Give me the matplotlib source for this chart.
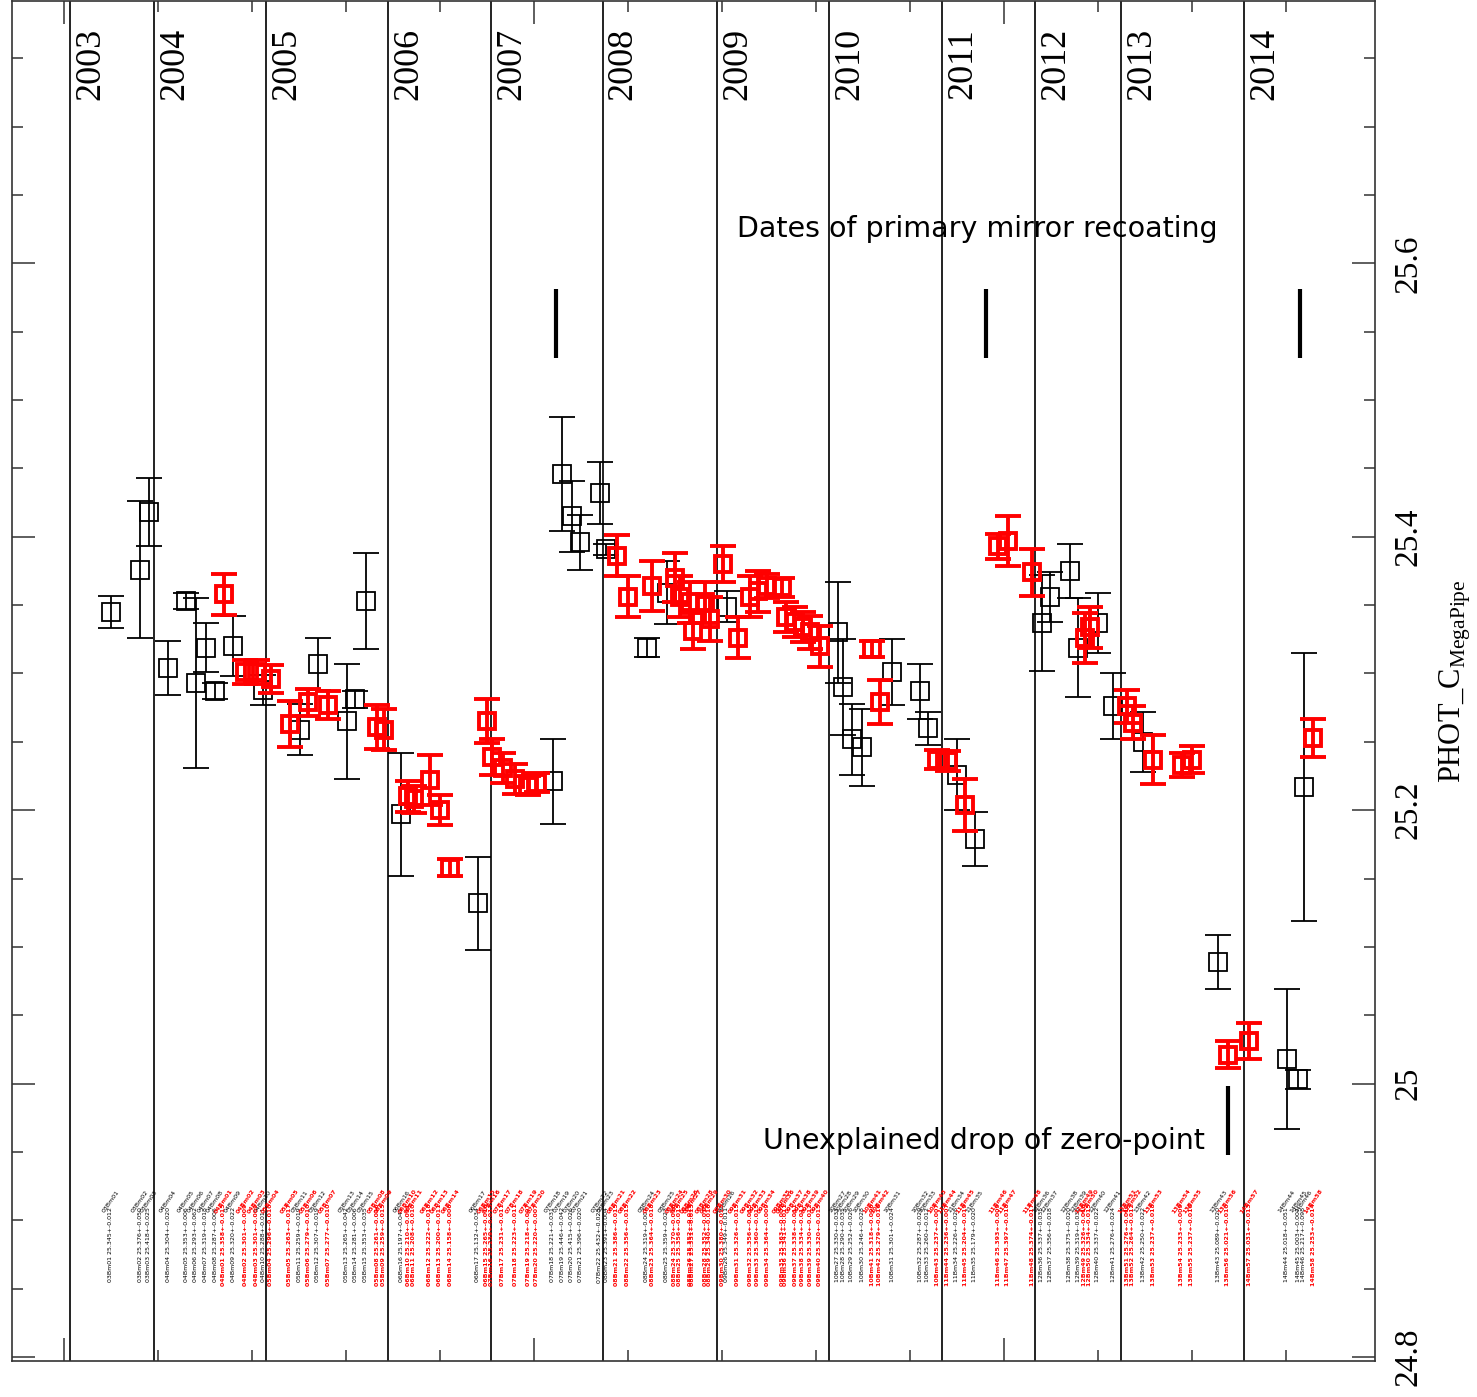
import bisect
import matplotlib
matplotlib.use("Agg")
import matplotlib.pyplot as plt
from matplotlib.ticker import MultipleLocator, FormatStrFormatter

# axe horizontal : numero de run camera (index), axe vertical : PHOT_C MegaPipe
years = [2003, 2004, 2005, 2006, 2007, 2008, 2009, 2010, 2011, 2012, 2013, 2014]
year_x = [0.64, 9.57, 21.5, 34.5, 45.4, 57.3, 69.5, 81.4, 93.4, 103.3, 112.5, 125.5]

# points noirs
blk_x = [5.0, 8.1, 9.0, 11.1, 13.0, 14.0, 15.1, 16.1, 18.0, 21.2,
         25.1, 27.0, 30.1, 31.0, 32.1, 35.9, 44.0, 52.0, 53.0, 54.0,
         54.9, 57.0, 57.7, 62.0, 64.1, 70.5, 82.3, 82.9, 83.8, 84.9,
         88.1, 91.1, 91.9, 95.0, 96.9, 104.0, 104.9, 107.0, 107.9, 110.0,
         111.6, 114.8, 122.8, 130.1, 131.3, 131.9]
blk_y = [25.345, 25.376, 25.418, 25.304, 25.353, 25.293, 25.319, 25.287, 25.320, 25.288,
         25.259, 25.307, 25.265, 25.281, 25.353, 25.197, 25.132, 25.221, 25.446, 25.415,
         25.396, 25.432, 25.391, 25.319, 25.359, 25.349, 25.330, 25.290, 25.252, 25.246,
         25.301, 25.287, 25.260, 25.226, 25.179, 25.337, 25.356, 25.375, 25.319, 25.337,
         25.276, 25.250, 25.089, 25.018, 25.003, 25.217]
blk_e = [0.012, 0.050, 0.025, 0.020, 0.006, 0.062, 0.018, 0.006, 0.022, 0.011,
         0.019, 0.019, 0.042, 0.006, 0.035, 0.045, 0.034, 0.031, 0.042, 0.026,
         0.020, 0.023, 0.004, 0.007, 0.023, 0.011, 0.037, 0.035, 0.026, 0.028,
         0.024, 0.020, 0.012, 0.026, 0.020, 0.035, 0.018, 0.020, 0.036, 0.022,
         0.024, 0.022, 0.020, 0.051, 0.007, 0.098]

# points rouges
red_x = [17.0, 19.3, 20.5, 22.0, 24.0, 26.0, 28.1, 33.3, 34.0, 36.6,
         37.2, 38.9, 40.0, 41.1, 45.0, 45.5, 46.7, 48.0, 49.4, 50.3,
         58.8, 60.0, 62.6, 65.0, 65.5, 66.6, 66.9, 68.2, 68.7, 70.1,
         71.7, 73.0, 73.8, 74.8, 76.4, 76.8, 77.8, 78.6, 79.4, 80.4,
         86.0, 86.8, 92.9, 94.0, 95.9, 99.4, 100.4, 103.0, 108.6, 109.1,
         113.1, 113.7, 115.9, 118.9, 120.0, 123.8, 126.1, 132.9]
red_y = [25.358, 25.301, 25.301, 25.296, 25.263, 25.279, 25.277, 25.261, 25.259, 25.210,
         25.208, 25.222, 25.200, 25.158, 25.265, 25.239, 25.231, 25.223, 25.218, 25.220,
         25.386, 25.356, 25.364, 25.370, 25.356, 25.352, 25.331, 25.352, 25.340, 25.380,
         25.326, 25.356, 25.360, 25.364, 25.363, 25.341, 25.338, 25.334, 25.330, 25.320,
         25.318, 25.279, 25.237, 25.236, 25.204, 25.393, 25.397, 25.374, 25.326, 25.334,
         25.276, 25.264, 25.237, 25.233, 25.237, 25.021, 25.031, 25.253]
red_e = [0.015, 0.009, 0.009, 0.010, 0.017, 0.010, 0.010, 0.016, 0.015, 0.011,
         0.010, 0.018, 0.011, 0.006, 0.016, 0.013, 0.011, 0.011, 0.007, 0.007,
         0.015, 0.015, 0.018, 0.018, 0.015, 0.015, 0.013, 0.015, 0.016, 0.013,
         0.015, 0.015, 0.015, 0.009, 0.007, 0.011, 0.011, 0.011, 0.012, 0.015,
         0.006, 0.016, 0.007, 0.007, 0.019, 0.009, 0.018, 0.017, 0.018, 0.015,
         0.012, 0.012, 0.018, 0.009, 0.010, 0.010, 0.013, 0.014]

# reperes
recoat_x = [52.3, 98.1, 131.5]
recoat_y = [25.531, 25.581]
drop_x = 123.8
drop_y = [24.948, 24.998]

serif = "Liberation Serif"
plt.rcParams["mathtext.fontset"] = "custom"
plt.rcParams["mathtext.rm"] = serif

fig = plt.figure(figsize=(14.77, 13.97), dpi=100)
ax = fig.add_axes([12 / 1477, 36 / 1397, 1363 / 1477, 1360 / 1397])
ax.set_xlim(-5.53, 139.47)
ax.set_ylim(24.797, 25.792)

# lignes des annees
for yr, xv in zip(years, year_x):
    ax.axvline(xv, color="#111111", lw=1.3, zorder=1)
    ax.text(xv + 0.45, 0.980, str(yr), transform=ax.get_xaxis_transform(),
            rotation=90, ha="left", va="top", fontsize=26, family=serif)

ax.errorbar(blk_x, blk_y, yerr=blk_e, fmt="s", ms=13, mfc="none", mec="black",
            mew=1.3, ecolor="black", elinewidth=1.3, capsize=9.5, capthick=1.3, zorder=3)
ax.errorbar(red_x, red_y, yerr=red_e, fmt="s", ms=12, mfc="none", mec="red",
            mew=2.8, ecolor="red", elinewidth=2.8, capsize=9.5, capthick=3, zorder=4)

for xv in recoat_x:
    ax.plot([xv, xv], recoat_y, color="black", lw=3, solid_capstyle="butt")
ax.plot([drop_x, drop_x], drop_y, color="black", lw=3, solid_capstyle="butt")

ax.text(71.6, 25.625, "Dates of primary mirror recoating", fontsize=20.5,
        family="DejaVu Sans", ha="left", va="center")
ax.text(74.4, 24.958, "Unexplained drop of zero-point", fontsize=20.5,
        family="DejaVu Sans", ha="left", va="center")

# etiquettes minuscules des runs en bas
def run_label(xv, k):
    yr = years[max(bisect.bisect(year_x, xv) - 1, 0)]
    return "%02dBm%02d" % (yr % 100, k)

for xs, ys, es, col, wt in [(blk_x, blk_y, blk_e, "black", "normal"),
                            (red_x, red_y, red_e, "red", "bold")]:
    for k, (xv, yv, ev) in enumerate(zip(xs, ys, es)):
        lab = run_label(xv, k + 1)
        ax.text(xv, 24.914, lab, rotation=55, fontsize=4.5, color=col,
                fontweight=wt, ha="center", va="center", zorder=2)
        ax.text(xv, 24.882, "%s %.3f+-%.3f" % (lab, yv, ev),
                rotation=90, fontsize=4.5, color=col, fontweight=wt,
                ha="center", va="center", zorder=2)

# axes
ax.xaxis.set_major_locator(MultipleLocator(50))
ax.xaxis.set_minor_locator(MultipleLocator(10))
ax.yaxis.set_major_locator(MultipleLocator(0.2))
ax.yaxis.set_minor_locator(MultipleLocator(0.05))
ax.yaxis.set_major_formatter(FormatStrFormatter("%g"))
ax.tick_params(which="both", direction="in", top=True, bottom=True, left=True, right=True,
               labelbottom=False, labelleft=False, labelright=True, width=1.1, color="#333333")
ax.tick_params(which="major", length=16.5)
ax.tick_params(which="minor", length=8)
ax.tick_params(axis="y", which="major", pad=13, labelsize=24, labelrotation=90)
for lab in ax.get_yticklabels():
    lab.set_family(serif)
    lab.set_va("center")
for s in ax.spines.values():
    s.set_linewidth(1.2)
    s.set_color("#333333")

ax.yaxis.set_label_position("right")
ax.set_ylabel(r"PHOT_C$_{\mathrm{MegaPipe}}$", fontsize=22, family=serif, rotation=90, labelpad=10)

fig.savefig("out.png", dpi=100, facecolor="white")
